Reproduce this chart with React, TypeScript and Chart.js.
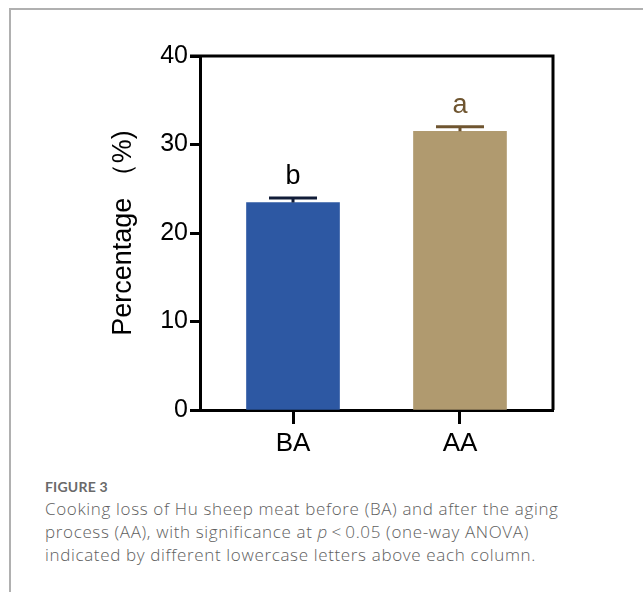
import React, { useEffect, useRef } from "react";
import { Chart, registerables } from "chart.js";

Chart.register(...registerables);

const categories = ["BA", "AA"];
const means = [23.45, 31.5];
const errors = [0.5, 0.5];
const letters = ["b", "a"];
const barColors = ["#2d58a3", "#b09a6f"];
const errColors = ["#111c38", "#6f5530"];
const letterColors = ["#000000", "#6f5530"];
const yTicks = [0, 10, 20, 30, 40];

const FONT = "'Liberation Sans', Arial, sans-serif";

const errorBarPlugin = {
  id: "errorBars",
  afterDatasetsDraw(chart: any) {
    const ctx = chart.ctx;
    const xs = chart.scales.x;
    const ys = chart.scales.y;
    ctx.save();
    means.forEach((m, i) => {
      const cx = xs.getPixelForValue(i);
      const yTop = ys.getPixelForValue(m + errors[i]);
      const yMean = ys.getPixelForValue(m);
      ctx.strokeStyle = errColors[i];
      ctx.lineWidth = 3;
      ctx.beginPath();
      ctx.moveTo(cx - 24, yTop);
      ctx.lineTo(cx + 24, yTop);
      ctx.moveTo(cx, yTop);
      ctx.lineTo(cx, yMean);
      ctx.stroke();
      ctx.fillStyle = letterColors[i];
      ctx.font = "27px " + FONT;
      ctx.textAlign = "center";
      ctx.textBaseline = "alphabetic";
      ctx.fillText(letters[i], cx, yTop - 14);
    });
    const a = chart.chartArea;
    ctx.strokeStyle = "#000";
    ctx.lineWidth = 3;
    ctx.beginPath();
    ctx.moveTo(a.left - 10, a.top);
    ctx.lineTo(a.right, a.top);
    ctx.lineTo(a.right, a.bottom);
    ctx.stroke();
    ctx.restore();
  },
};

export default function App() {
  const ref = useRef<HTMLCanvasElement>(null);
  useEffect(() => {
    if (!ref.current) return;
    const chart = new Chart(ref.current, {
      type: "bar",
      data: {
        datasets: [
          {
            data: means.map((m, i) => ({ x: i, y: m })),
            backgroundColor: barColors,
            borderWidth: 0,
            barThickness: 93,
          } as any,
        ],
      },
      options: {
        animation: false,
        responsive: false,
        devicePixelRatio: 1,
        layout: { padding: { left: 102, right: 90, top: 56, bottom: 0 } },
        plugins: { legend: { display: false }, tooltip: { enabled: false } },
        scales: {
          x: {
            type: "linear",
            offset: false,
            min: -0.557,
            max: 1.557,
            afterBuildTicks: (s: any) => {
              s.ticks = categories.map((_, i) => ({ value: i }));
            },
            afterFit: (s: any) => {
              s.height = 60;
            },
            ticks: {
              callback: (v: any) => categories[v] ?? "",
              color: "#000",
              font: { family: FONT, size: 26 },
              padding: 4,
              maxRotation: 0,
            },
            grid: {
              offset: false,
              drawOnChartArea: false,
              tickLength: 14,
              tickWidth: 3,
              tickColor: "#000",
            },
            border: { display: true, width: 3, color: "#000" },
          },
          y: {
            min: 0,
            max: 40,
            afterBuildTicks: (s: any) => {
              s.ticks = yTicks.map((v) => ({ value: v }));
            },
            afterFit: (s: any) => {
              s.width = 98;
            },
            ticks: {
              color: "#000",
              font: { family: FONT, size: 25 },
              padding: 2,
            },
            grid: {
              drawOnChartArea: false,
              tickLength: 10,
              tickWidth: 3,
              tickColor: "#000",
            },
            border: { display: true, width: 3, color: "#000" },
            title: {
              display: true,
              text: "Percentage （%)",
              color: "#000",
              font: { family: FONT, size: 27 },
              padding: { top: 5, bottom: 4 },
            },
          },
        },
      },
      plugins: [errorBarPlugin],
    });
    return () => chart.destroy();
  }, []);

  return (
    <div
      style={{
        position: "absolute",
        left: 0,
        top: 0,
        width: 643,
        height: 592,
        background: "#fff",
        overflow: "hidden",
      }}
    >
      <div
        style={{
          position: "absolute",
          left: 9,
          top: 8,
          width: 640,
          height: 600,
          borderTop: "2px solid #b0b0b0",
          borderLeft: "2px solid #b0b0b0",
        }}
      />
      <canvas
        ref={ref}
        width={643}
        height={470}
        style={{ position: "absolute", left: 0, top: 0, width: 643, height: 470 }}
      />
      <div
        style={{
          position: "absolute",
          left: 45,
          top: 478,
          color: "#6a6a6a",
        }}
      >
        <div
          style={{
            fontFamily: "Lato, sans-serif",
            fontSize: 14,
            fontWeight: 700,
            letterSpacing: 0.2,
            lineHeight: "18px",
          }}
        >
          FIGURE 3
        </div>
        <div
          style={{
            fontFamily: "'Open Sans', Lato, sans-serif",
            fontSize: 17,
            fontWeight: 300,
            letterSpacing: 0.65,
            lineHeight: "23px",
            color: "#5e5e5e",
            marginTop: 1,
            width: 590,
            whiteSpace: "nowrap",
          }}
        >
          Cooking loss of Hu sheep meat before (BA) and after the aging
          <br />
          process (AA), with significance at <i>p</i>&thinsp;&lt;&thinsp;0.05 (one-way ANOVA)
          <br />
          indicated by different lowercase letters above each column.
        </div>
      </div>
    </div>
  );
}
